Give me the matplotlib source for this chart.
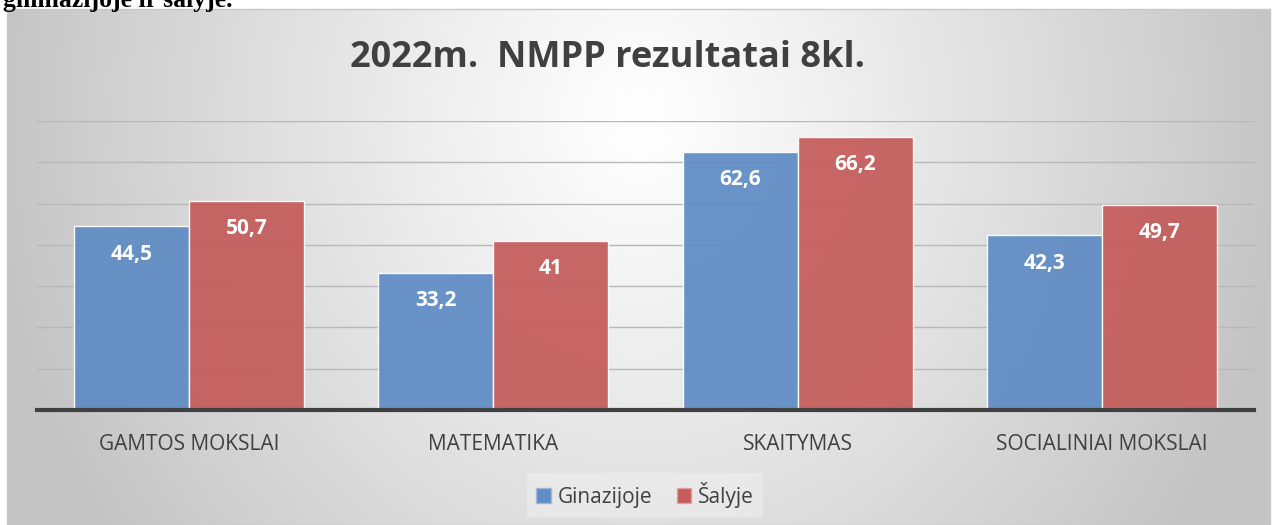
import numpy as np
import matplotlib
matplotlib.use('Agg')
import matplotlib.pyplot as plt
from matplotlib.patches import Patch

plt.rcParams['font.family'] = ['Open Sans', 'DejaVu Sans']

# duomenys
dalykai = ['GAMTOS MOKSLAI', 'MATEMATIKA', 'SKAITYMAS', 'SOCIALINIAI MOKSLAI']
gimnazija = [44.5, 33.2, 62.6, 42.3]
salis = [50.7, 41, 66.2, 49.7]
etiketes_g = ['44,5', '33,2', '62,6', '42,3']
etiketes_s = ['50,7', '41', '66,2', '49,7']

W, H = 1274, 525
fig = plt.figure(figsize=(W / 100, H / 100), dpi=100)
fig.patch.set_facecolor('white')

# teksto likutis virsuje
fig.text(3 / W, 1 - 7 / H, 'gimnazijoje ir šalyje.', family='Liberation Serif',
         weight='bold', fontsize=18.5, va='baseline', ha='left', color='black')

# fonas su gradientu
bg = fig.add_axes([7 / W, 0, (1270 - 7) / W, (H - 9) / H])
xx, yy = np.meshgrid(np.linspace(7, 1270, 400), np.linspace(9, H, 200))
t = np.sqrt(((xx - 640) / 650) ** 2 + ((yy - 120) / 720) ** 2)
t = np.clip(t, 0, 1) ** 1.1
val = 1 - (1 - 0.77) * t
bg.imshow(np.dstack([val, val, val]), aspect='auto', extent=[0, 1, 0, 1], zorder=0)
bg.set_xlim(0, 1)
bg.set_ylim(0, 1)
bg.set_xticks([])
bg.set_yticks([])
for s in bg.spines.values():
    s.set_color('#c8c8c8')
    s.set_linewidth(1)

ax = fig.add_axes([37 / W, 1 - 410 / H, (1254 - 37) / W, (410 - 121) / H])
ax.patch.set_alpha(0)
x = np.arange(len(dalykai))
w = 0.378
b1 = ax.bar(x - w / 2, gimnazija, w, color='#5f8cc4', alpha=0.93, edgecolor='white',
            linewidth=1, zorder=3, label='Ginazijoje')
b2 = ax.bar(x + w / 2, salis, w, color='#c45c5a', alpha=0.93, edgecolor='white',
            linewidth=1, zorder=3, label='Šalyje')

for rect, lab in zip(b1, etiketes_g):
    ax.annotate(lab, (rect.get_x() + rect.get_width() / 2, rect.get_height()),
                xytext=(0, -28), textcoords='offset pixels', ha='center', va='center',
                color='white', fontsize=15, weight='bold', zorder=5)
for rect, lab in zip(b2, etiketes_s):
    ax.annotate(lab, (rect.get_x() + rect.get_width() / 2, rect.get_height()),
                xytext=(0, -28), textcoords='offset pixels', ha='center', va='center',
                color='white', fontsize=15, weight='bold', zorder=5)

ax.set_xlim(-0.5, 3.5)
ax.set_ylim(0, 70)
ax.set_yticks(np.arange(10, 71, 10))
ax.yaxis.grid(True, color='#b8b8b8', linewidth=1, zorder=0)
ax.tick_params(axis='y', left=False, labelleft=False)
ax.tick_params(axis='x', bottom=False, pad=14)
ax.set_xticks(x)
ax.set_xticklabels(dalykai, fontsize=15, color='#404040')
for s in ['top', 'right', 'left']:
    ax.spines[s].set_visible(False)
ax.spines['bottom'].set_color('#404040')
ax.spines['bottom'].set_linewidth(3)
ax.spines['bottom'].set_zorder(4)

fig.text(607 / W, 1 - 58 / H, '2022m.  NMPP rezultatai 8kl.', ha='center', va='center',
         fontsize=26, weight='bold', color='#404040')

handles = [Patch(facecolor='#5f8cc4', edgecolor='#9db8dc', label='Ginazijoje'),
           Patch(facecolor='#c45c5a', edgecolor='#e0a0a0', label='Šalyje')]
leg = fig.legend(handles=handles, loc='center', bbox_to_anchor=(645 / W, 1 - 495 / H),
                 ncol=2, fontsize=15, frameon=True, handlelength=0.7, handleheight=0.7,
                 handletextpad=0.3, columnspacing=1.2, borderpad=0.45, fancybox=False)
leg.get_frame().set_facecolor('#ececec')
leg.get_frame().set_edgecolor('none')
leg.get_frame().set_alpha(0.7)
for txt in leg.get_texts():
    txt.set_color('#404040')

fig.savefig('out.png', dpi=100)
